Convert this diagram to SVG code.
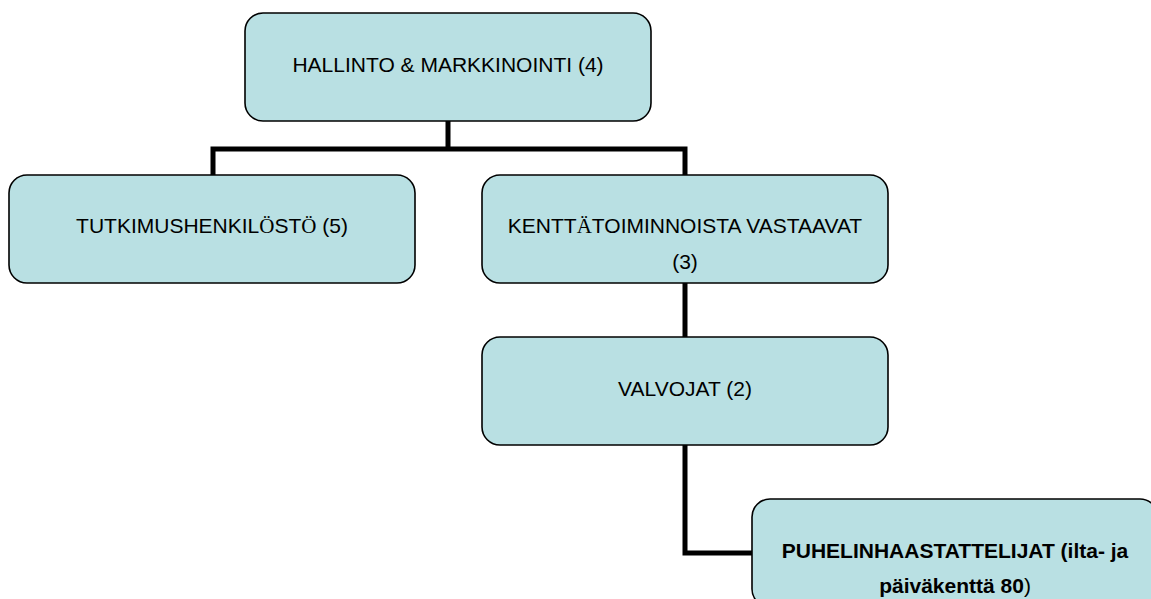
<svg xmlns="http://www.w3.org/2000/svg" width="1151" height="599" viewBox="0 0 1151 599">
<style>
.box{fill:#b9e0e3;stroke:#000;stroke-width:1.6}
.t{font-family:"Liberation Sans",Arial,sans-serif;font-size:21px;fill:#000;text-anchor:middle}
.b{font-weight:bold}
.s{font-family:"Liberation Serif","Times New Roman",serif}
.c{fill:none;stroke:#000;stroke-width:5}
</style>
<rect width="1151" height="599" fill="#fff"/>
<g id="connectors">
<path class="c" d="M448 121V149M213 175V149H685V175"/>
<path class="c" d="M685 283V337"/>
<path class="c" d="M685 445V553H752"/>
</g>
<g id="hallinto">
<rect class="box" x="245" y="13" width="406" height="108" rx="18"/>
<text class="t" x="448" y="72">HALLINTO &amp; MARKKINOINTI (4)</text>
</g>
<g id="tutkimus">
<rect class="box" x="9" y="175" width="406" height="108" rx="18"/>
<text class="t" x="212" y="233">TUTKIMUSHENKIL<tspan class="s">Ö</tspan>ST<tspan class="s">Ö</tspan> (5)</text>
</g>
<g id="kentta">
<rect class="box" x="482" y="175" width="406" height="108" rx="18"/>
<text class="t" x="685" y="233">KENTT<tspan class="s">Ä</tspan>TOIMINNOISTA VASTAAVAT</text>
<text class="t" x="685" y="269">(3)</text>
</g>
<g id="valvojat">
<rect class="box" x="482" y="337" width="406" height="108" rx="18"/>
<text class="t" x="685" y="396">VALVOJAT (2)</text>
</g>
<g id="puhelin">
<rect class="box" x="752" y="499" width="406" height="108" rx="18"/>
<text class="t b" x="955" y="558">PUHELINHAASTATTELIJAT (ilta- ja</text>
<text class="t" x="955" y="593"><tspan class="b">päiväkenttä 80</tspan>)</text>
</g>
</svg>
